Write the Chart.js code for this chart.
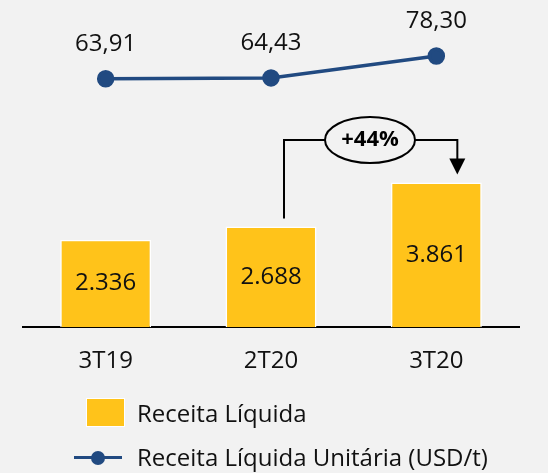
<!DOCTYPE html>
<html>
<head>
<meta charset="utf-8">
<script src="https://cdn.jsdelivr.net/npm/chart.js@4/dist/chart.umd.min.js"></script>
<style>
	body { margin: 0; background: #f2f2f2; font-family: 'Open Sans', sans-serif; }
	.wrap { position: relative; width: 548px; height: 473px; }
	.legend { position: absolute; left: 0; top: 390px; font-size: 24px; color: #111; }
	.legend-item { position: absolute; white-space: nowrap; }
	.swatch { position: absolute; left: 86px; width: 37px; height: 27px; background: #ffc31a; border: 1.5px solid #fff; }
	.line-key { position: absolute; left: 74px; width: 48px; height: 3px; background: #214a81; }
	.line-key::after { content: ''; position: absolute; left: 17px; top: -5.5px; width: 14px; height: 14px; border-radius: 50%; background: #214a81; }
</style>
</head>
<body>
<div class="wrap">
	<canvas id="chart" width="548" height="473"></canvas>
	<div class="legend">
		<div class="swatch" style="top: 8px;"></div>
		<div class="legend-item" style="left: 137px; top: 6px;">Receita Líquida</div>
		<div class="line-key" style="top: 66px;"></div>
		<div class="legend-item" style="left: 137px; top: 50px;">Receita Líquida Unitária (USD/t)</div>
	</div>
</div>
<script>
// chart data
const periods = ['3T19', '2T20', '3T20'];
const receita = [2336, 2688, 3861];
const receitaUnit = [63.91, 64.43, 78.30];
const receitaLabels = ['2.336', '2.688', '3.861'];
const unitLabels = ['63,91', '64,43', '78,30'];
const growthLabel = '+44%';

// writes the values on bars and points, and the +44% arrow
const labelsPlugin = {
	id: 'labels',
	afterDatasetsDraw(chart) {
		const ctx = chart.ctx;
		ctx.save();
		ctx.fillStyle = '#111';
		ctx.textAlign = 'center';
		ctx.textBaseline = 'middle';
		ctx.font = '24px "Open Sans"';

		chart.getDatasetMeta(0).data.forEach((bar, i) => {
			ctx.fillText(receitaLabels[i], bar.x, (bar.y + bar.base) / 2);
		});
		chart.getDatasetMeta(1).data.forEach((pt, i) => {
			ctx.fillText(unitLabels[i], pt.x, pt.y - 35);
		});

		// arrow from 2T20 to 3T20
		const bars = chart.getDatasetMeta(0).data;
		const x1 = bars[1].x + 13;
		const x2 = bars[2].x + 21;
		const yTop = 140;
		ctx.strokeStyle = '#000';
		ctx.lineWidth = 2;
		ctx.beginPath();
		ctx.moveTo(x1, bars[1].y - 8);
		ctx.lineTo(x1, yTop);
		ctx.lineTo(x2, yTop);
		ctx.lineTo(x2, bars[2].y - 22);
		ctx.stroke();
		ctx.fillStyle = '#000';
		ctx.beginPath();
		ctx.moveTo(x2 - 8, bars[2].y - 24);
		ctx.lineTo(x2 + 8, bars[2].y - 24);
		ctx.lineTo(x2, bars[2].y - 8);
		ctx.closePath();
		ctx.fill();

		ctx.beginPath();
		ctx.ellipse(370, yTop, 45, 23, 0, 0, Math.PI * 2);
		ctx.fillStyle = '#f2f2f2';
		ctx.fill();
		ctx.stroke();
		ctx.fillStyle = '#000';
		ctx.font = 'bold 22px "Open Sans"';
		ctx.fillText(growthLabel, 370, yTop);
		ctx.restore();
	}
};

new Chart(document.getElementById('chart'), {
	type: 'bar',
	data: {
		labels: periods,
		datasets: [
			{
				label: 'Receita Líquida',
				data: receita,
				backgroundColor: '#ffc31a',
				borderColor: '#ffffff',
				borderWidth: 1.5,
				borderSkipped: 'bottom',
				categoryPercentage: 1,
				barPercentage: 0.55,
				yAxisID: 'y',
				order: 2,
			},
			{
				type: 'line',
				label: 'Receita Líquida Unitária (USD/t)',
				data: receitaUnit,
				borderColor: '#214a81',
				backgroundColor: '#214a81',
				borderWidth: 3.5,
				pointRadius: 7,
				pointHoverRadius: 7,
				tension: 0,
				yAxisID: 'y2',
				order: 1,
			},
		],
	},
	options: {
		responsive: false,
		animation: false,
		events: [],
		layout: { padding: { top: 10, left: 23, right: 29, bottom: 85 } },
		plugins: {
			legend: { display: false },
			tooltip: { enabled: false },
		},
		scales: {
			x: {
				grid: { display: false },
				border: { display: true, color: '#000', width: 2 },
				ticks: { color: '#111', font: { family: 'Open Sans', size: 24 }, padding: 12 },
			},
			y: { display: false, min: 0, max: 8450 },
			y2: { display: false, min: -93, max: 107 },
		},
	},
	plugins: [labelsPlugin],
});
</script>
</body>
</html>
